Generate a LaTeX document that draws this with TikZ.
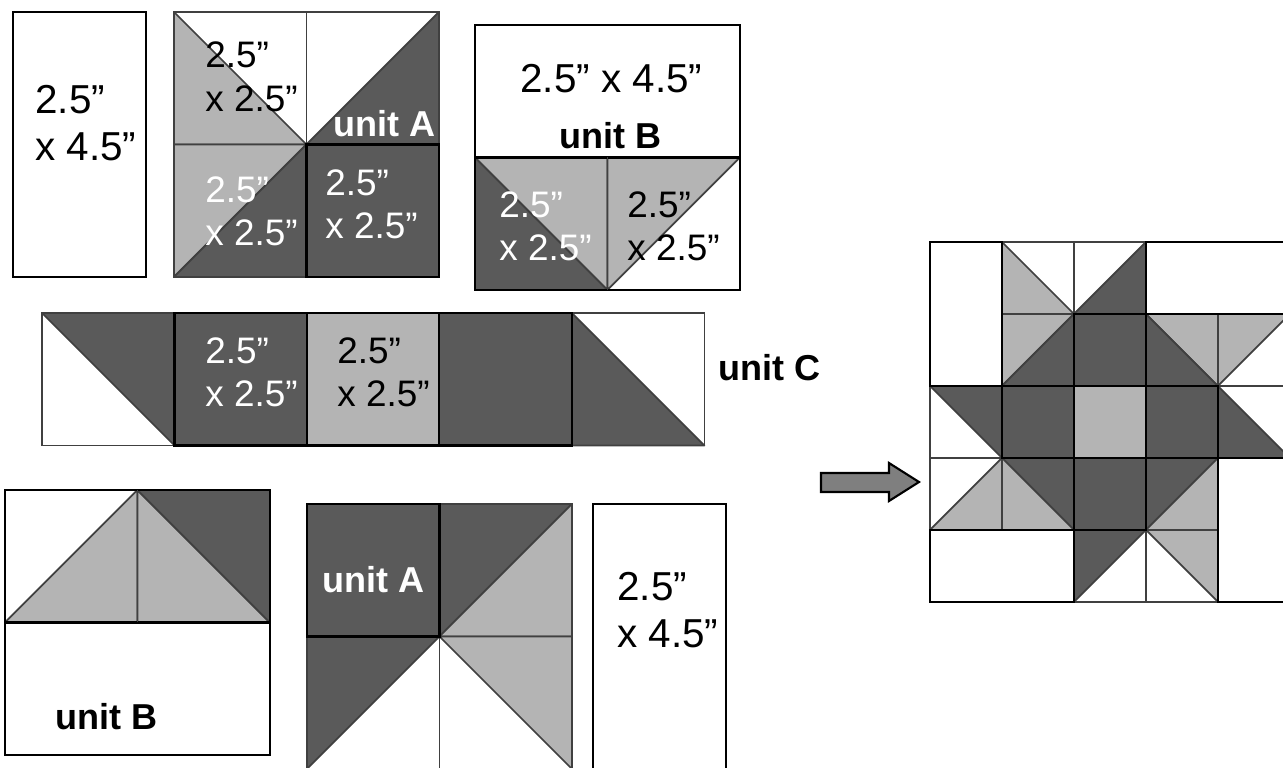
\documentclass[tikz,border=0pt]{standalone}
\usepackage{fontspec}
\setmainfont{Liberation Sans}

\definecolor{patchdark}{HTML}{5A5A5A}
\definecolor{patchlight}{HTML}{B4B4B4}
\definecolor{seam}{HTML}{404040}
\definecolor{arrowgray}{HTML}{7F7F7F}

\newcommand{\dimstack}[2]{\begin{tabular}[t]{@{}l@{}}#1\\#2\end{tabular}}

\tikzset{
  darkpatch/.style={fill=patchdark, draw=seam, line width=1pt, line join=round},
  lightpatch/.style={fill=patchlight, draw=seam, line width=1pt, line join=round},
  seamline/.style={draw=seam, line width=1pt},
  outline/.style={draw=black, line width=1.2pt},
  bigtxt/.style={anchor=base west, inner sep=0pt, font=\fontsize{23}{27.2}\selectfont},
  smalltxt/.style={anchor=base west, inner sep=0pt, font=\fontsize{21}{24.8}\selectfont},
  unittxt/.style={anchor=base west, inner sep=0pt, font=\fontsize{20.5}{24}\selectfont\bfseries},
}

\begin{document}
\begin{tikzpicture}[x=0.02cm, y=-0.02cm]
\useasboundingbox (0,0) rectangle (1283,767);
\clip (0,0) rectangle (1283,767);

% rechteck links oben
	\draw[outline] (13,12) rectangle (146,277);
	\node[bigtxt] (tallTop) at (35,113) {\dimstack{2.5”}{x 4.5”}};

% unit A oben
\begin{scope}[shift={(174,12)}, x=2.65cm, y=-2.65cm]
	\filldraw[lightpatch] (0,0) -- (1,1) -- (0,1) -- cycle;
	\filldraw[darkpatch] (1,1) -- (2,0) -- (2,1) -- cycle;
	\filldraw[lightpatch] (0,1) -- (1,1) -- (0,2) -- cycle;
	\filldraw[darkpatch] (1,1) -- (1,2) -- (0,2) -- cycle;
	\fill[patchdark] (1,1) rectangle (2,2);
	\draw[seamline] (0,0) rectangle (2,2) (1,0) -- (1,2) (0,1) -- (2,1);
	\draw[outline] (1,1) rectangle (2,2);
\end{scope}
	\node[smalltxt] (dimAtl) at (205,68) {\dimstack{2.5”}{x 2.5”}};
	\node[smalltxt, text=white] (dimAbl) at (205,202) {\dimstack{2.5”}{x 2.5”}};
	\node[smalltxt, text=white] (dimAbr) at (325,195) {\dimstack{2.5”}{x 2.5”}};
	\node[unittxt, text=white] (unitAtop) at (333,136) {unit A};

% unit B oben
\begin{scope}[shift={(475,25)}, x=2.65cm, y=-2.65cm]
	\draw[outline] (0,0) rectangle (2,1);
	\filldraw[darkpatch] (0,1) -- (1,2) -- (0,2) -- cycle;
	\filldraw[lightpatch] (0,1) -- (1,1) -- (1,2) -- cycle;
	\filldraw[lightpatch] (1,1) -- (2,1) -- (1,2) -- cycle;
	\draw[outline] (0,1) rectangle (2,2);
	\draw[seamline] (1,1) -- (1,2);
\end{scope}
	\node[bigtxt] (dimBtop) at (520,92) {2.5” x 4.5”};
	\node[unittxt] (unitBtop) at (559,148) {unit B};
	\node[smalltxt, text=white] (dimBl) at (499,217) {\dimstack{2.5”}{x 2.5”}};
	\node[smalltxt] (dimBr) at (627,217) {\dimstack{2.5”}{x 2.5”}};

% unit C
\begin{scope}[shift={(42,313)}, x=2.65cm, y=-2.65cm]
	\filldraw[darkpatch] (0,0) -- (1,0) -- (1,1) -- cycle;
	\foreach \x/\col in {1/patchdark, 2/patchlight, 3/patchdark}
		\fill[fill=\col] (\x,0) rectangle ++(1,1);
	\filldraw[darkpatch] (4,0) -- (5,1) -- (4,1) -- cycle;
	\draw[seamline] (0,0) rectangle (5,1);
	\draw[outline] (1,0) rectangle (4,1) (2,0) -- (2,1) (3,0) -- (3,1);
\end{scope}
	\node[smalltxt, text=white] (dimC1) at (205,363) {\dimstack{2.5”}{x 2.5”}};
	\node[smalltxt] (dimC2) at (337,363) {\dimstack{2.5”}{x 2.5”}};
	\node[unittxt] (unitC) at (718,380) {unit C};

% unit B unten
\begin{scope}[shift={(5,490)}, x=2.65cm, y=-2.65cm]
	\filldraw[lightpatch] (0,1) -- (1,0) -- (1,1) -- cycle;
	\filldraw[lightpatch] (1,0) -- (2,1) -- (1,1) -- cycle;
	\filldraw[darkpatch] (1,0) -- (2,0) -- (2,1) -- cycle;
	\draw[outline] (0,0) rectangle (2,1) (0,1) rectangle (2,2);
	\draw[seamline] (1,0) -- (1,1);
\end{scope}
	\node[unittxt] (unitBbot) at (55,729) {unit B};

% unit A unten
\begin{scope}[shift={(307,504)}, x=2.65cm, y=-2.65cm]
	\fill[patchdark] (0,0) rectangle (1,1);
	\filldraw[darkpatch] (1,0) -- (2,0) -- (1,1) -- cycle;
	\filldraw[lightpatch] (2,0) -- (2,1) -- (1,1) -- cycle;
	\filldraw[darkpatch] (0,1) -- (1,1) -- (0,2) -- cycle;
	\filldraw[lightpatch] (1,1) -- (2,1) -- (2,2) -- cycle;
	\draw[seamline] (0,0) rectangle (2,2) (1,0) -- (1,2) (0,1) -- (2,1);
	\draw[outline] (0,0) rectangle (1,1);
\end{scope}
	\node[unittxt, text=white] (unitAbot) at (322,592) {unit A};

% rechteck unten
	\draw[outline] (593,504) rectangle (726,770);
	\node[bigtxt] (tallBot) at (617,600) {\dimstack{2.5”}{x 4.5”}};

% pfeil
	\filldraw[fill=arrowgray, draw=black, line width=1.2pt]
		(821,473) -- (889,473) -- (889,463) -- (919,482) -- (889,501) -- (889,492) -- (821,492) -- cycle;

% fertiger block
\begin{scope}[shift={(930,242)}, x=1.44cm, y=-1.44cm]
	\filldraw[lightpatch] (1,0) -- (2,1) -- (1,1) -- cycle;
	\filldraw[darkpatch] (2,1) -- (3,0) -- (3,1) -- cycle;
	\filldraw[lightpatch] (1,1) -- (2,1) -- (1,2) -- cycle;
	\filldraw[darkpatch] (2,1) -- (2,2) -- (1,2) -- cycle;
	\filldraw[lightpatch] (3,1) -- (4,1) -- (4,2) -- cycle;
	\filldraw[darkpatch] (3,1) -- (4,2) -- (3,2) -- cycle;
	\filldraw[lightpatch] (4,1) -- (5,1) -- (4,2) -- cycle;
	\filldraw[darkpatch] (0,2) -- (1,2) -- (1,3) -- cycle;
	\filldraw[darkpatch] (4,2) -- (5,3) -- (4,3) -- cycle;
	\filldraw[lightpatch] (0,4) -- (1,3) -- (1,4) -- cycle;
	\filldraw[darkpatch] (1,3) -- (2,3) -- (2,4) -- cycle;
	\filldraw[lightpatch] (1,3) -- (2,4) -- (1,4) -- cycle;
	\filldraw[darkpatch] (3,3) -- (4,3) -- (3,4) -- cycle;
	\filldraw[lightpatch] (4,3) -- (4,4) -- (3,4) -- cycle;
	\filldraw[darkpatch] (2,4) -- (3,4) -- (2,5) -- cycle;
	\filldraw[lightpatch] (3,4) -- (4,4) -- (4,5) -- cycle;
	\foreach \x/\y/\col in {2/1/patchdark, 1/2/patchdark, 2/2/patchlight, 3/2/patchdark, 2/3/patchdark}
		\fill[fill=\col] (\x,\y) rectangle ++(1,1);
	\foreach \x/\y in {1/0, 2/0, 1/1, 3/1, 4/1, 0/2, 4/2, 0/3, 1/3, 3/3, 2/4, 3/4}
		\draw[seamline] (\x,\y) rectangle ++(1,1);
	\foreach \x/\y in {2/1, 1/2, 2/2, 3/2, 2/3}
		\draw[outline] (\x,\y) rectangle ++(1,1);
	\draw[outline] (0,0) rectangle (1,2) (3,0) rectangle (5,1) (4,3) rectangle (5,5) (0,4) rectangle (2,5);
\end{scope}
\end{tikzpicture}
\end{document}
